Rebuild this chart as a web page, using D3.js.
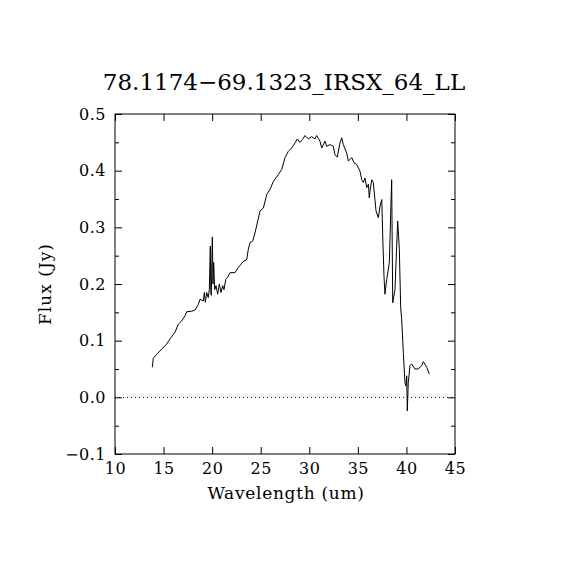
<!DOCTYPE html>
<html>
<head>
<meta charset="utf-8">
<script src="https://cdn.jsdelivr.net/npm/d3@7"></script>
<style>
body { margin:0; background:#fff; }
text { font-family: "DejaVu Serif", "Liberation Serif", serif; fill:#000; }
</style>
</head>
<body>
<div id="chart-area"></div>
<script>
// spectrum of 78.1174-69.1323 (IRS LL)
var titleText = "78.1174\u221269.1323_IRSX_64_LL";
var xTicks = [10, 15, 20, 25, 30, 35, 40, 45];
var yTicks = [-0.1, 0.0, 0.1, 0.2, 0.3, 0.4, 0.5];
var yMinor = [-0.05, 0.05, 0.15, 0.25, 0.35, 0.45];

var wave = [13.84, 13.94, 14.29, 14.81, 15.32, 15.66, 16.18, 16.52, 16.87, 17.21,
	17.38, 17.90, 18.24, 18.58, 18.75, 19.09, 19.20, 19.30, 19.44, 19.60,
	19.71, 19.81, 19.86, 19.91, 20.02, 20.09, 20.16, 20.26, 20.40, 20.57,
	20.74, 20.91, 21.09, 21.22, 21.40, 21.56, 21.84, 22.35, 22.69, 23.21,
	23.56, 23.72, 23.90, 24.18, 24.41, 24.65, 24.93, 25.27, 25.62, 25.96,
	26.30, 26.81, 27.16, 27.50, 27.84, 28.19, 28.53, 28.77, 29.04, 29.30,
	29.56, 29.90, 30.25, 30.59, 30.76, 31.10, 31.28, 31.62, 31.79, 32.13,
	32.47, 32.65, 32.88, 33.16, 33.34, 33.50, 33.85, 34.02, 34.37, 34.60,
	34.88, 35.22, 35.40, 35.56, 35.73, 35.91, 36.08, 36.18, 36.25, 36.43,
	36.59, 36.87, 37.11, 37.28, 37.46, 37.56, 37.69, 37.79, 37.97, 38.24,
	38.48, 38.59, 38.82, 39.10, 39.27, 39.41, 39.51, 39.68, 39.85, 39.95,
	40.03, 40.09, 40.19, 40.37, 40.54, 40.88, 41.22, 41.57, 41.74, 42.09,
	42.36];
var flux = [0.053, 0.069, 0.076, 0.085, 0.094, 0.103, 0.115, 0.129, 0.135, 0.144,
	0.151, 0.152, 0.154, 0.164, 0.173, 0.170, 0.185, 0.168, 0.185, 0.176,
	0.190, 0.267, 0.190, 0.180, 0.283, 0.200, 0.238, 0.190, 0.197, 0.182,
	0.200, 0.185, 0.197, 0.190, 0.208, 0.211, 0.220, 0.220, 0.229, 0.240,
	0.243, 0.261, 0.273, 0.276, 0.290, 0.308, 0.329, 0.334, 0.358, 0.367,
	0.381, 0.393, 0.402, 0.423, 0.434, 0.440, 0.449, 0.456, 0.450, 0.455,
	0.462, 0.456, 0.460, 0.456, 0.462, 0.452, 0.440, 0.452, 0.443, 0.446,
	0.443, 0.428, 0.424, 0.449, 0.458, 0.446, 0.431, 0.417, 0.423, 0.414,
	0.411, 0.399, 0.384, 0.379, 0.387, 0.370, 0.376, 0.352, 0.364, 0.384,
	0.379, 0.329, 0.317, 0.337, 0.349, 0.285, 0.214, 0.182, 0.208, 0.238,
	0.384, 0.167, 0.190, 0.311, 0.261, 0.158, 0.138, 0.079, 0.026, 0.020,
	0.038, -0.024, 0.026, 0.056, 0.059, 0.050, 0.050, 0.056, 0.063, 0.053,
	0.041];

var margin = { left:115, right:115, top:114, bottom:116 };
var width = 570 - margin.left - margin.right;
var height = 570 - margin.top - margin.bottom;

var svg = d3.select("#chart-area")
	.append("svg")
		.attr("width", 570)
		.attr("height", 570);

var g = svg.append("g")
	.attr("transform", "translate(" + margin.left + "," + margin.top + ")");

var x = d3.scaleLinear().domain([10, 45]).range([0, width]);
var y = d3.scaleLinear().domain([-0.1, 0.5]).range([height, 0]);

// bottom axis with labels, ticks pointing in
g.append("g")
	.attr("transform", "translate(0," + height + ")")
	.call(d3.axisBottom(x).tickValues(xTicks).tickSizeInner(-7).tickSizeOuter(0).tickPadding(8))
	.call(function(s){
		s.select(".domain").remove();
		s.selectAll("text").attr("font-size", "16px").attr("dy", "0.75em")
			.style("font-family", "'DejaVu Serif', serif")
			.style("letter-spacing", "0.5px");
	});

// top axis, ticks only
g.append("g")
	.call(d3.axisTop(x).tickValues(xTicks).tickSizeInner(-7).tickSizeOuter(0).tickFormat(""))
	.call(function(s){ s.select(".domain").remove(); });

// left axis, major + minor
g.append("g")
	.call(d3.axisLeft(y).tickValues(yTicks).tickSizeInner(-7).tickSizeOuter(0).tickPadding(9)
		.tickFormat(d3.format(".1f")))
	.call(function(s){
		s.select(".domain").remove();
		s.selectAll("text").attr("font-size", "16px")
			.style("font-family", "'DejaVu Serif', serif")
			.style("letter-spacing", "0.5px");
	});
g.append("g")
	.call(d3.axisLeft(y).tickValues(yMinor).tickSizeInner(-4).tickSizeOuter(0).tickFormat(""))
	.call(function(s){ s.select(".domain").remove(); });

// right axis
g.append("g")
	.attr("transform", "translate(" + width + ",0)")
	.call(d3.axisRight(y).tickValues(yTicks).tickSizeInner(-7).tickSizeOuter(0).tickFormat(""))
	.call(function(s){ s.select(".domain").remove(); });
g.append("g")
	.attr("transform", "translate(" + width + ",0)")
	.call(d3.axisRight(y).tickValues(yMinor).tickSizeInner(-4).tickSizeOuter(0).tickFormat(""))
	.call(function(s){ s.select(".domain").remove(); });

// frame
g.append("rect")
	.attr("width", width)
	.attr("height", height)
	.attr("fill", "none")
	.attr("stroke", "#000")
	.attr("stroke-width", 1);

// zero line
g.append("line")
	.attr("x1", x(10)).attr("x2", x(45))
	.attr("y1", y(0)).attr("y2", y(0))
	.attr("stroke", "#000")
	.attr("stroke-width", 1)
	.attr("stroke-dasharray", "1,3");

var data = wave.map(function(w, i){ return { w: w, f: flux[i] }; });

var line = d3.line()
	.x(function(d){ return x(d.w); })
	.y(function(d){ return y(d.f); });

g.append("path")
	.datum(data)
	.attr("fill", "none")
	.attr("stroke", "#000")
	.attr("stroke-width", 1)
	.attr("d", line);

// title
svg.append("text")
	.attr("x", 284)
	.attr("y", 90)
	.attr("text-anchor", "middle")
	.attr("font-size", "23px")
	.text(titleText);

// x label
svg.append("text")
	.attr("x", 286)
	.attr("y", 499)
	.attr("text-anchor", "middle")
	.attr("font-size", "17px")
	.style("letter-spacing", "0.7px")
	.text("Wavelength (um)");

// y label
svg.append("text")
	.attr("transform", "rotate(-90)")
	.attr("x", -284)
	.attr("y", 51)
	.attr("text-anchor", "middle")
	.attr("font-size", "17px")
	.style("letter-spacing", "1px")
	.text("Flux (Jy)");
</script>
</body>
</html>
